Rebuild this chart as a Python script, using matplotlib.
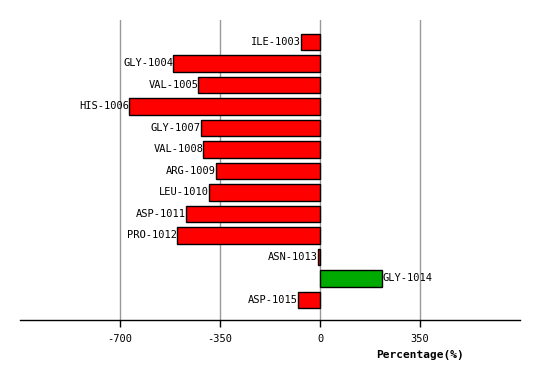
import matplotlib
matplotlib.use('Agg')
import matplotlib.pyplot as plt

residues = ['ILE-1003', 'GLY-1004', 'VAL-1005', 'HIS-1006', 'GLY-1007', 'VAL-1008',
            'ARG-1009', 'LEU-1010', 'ASP-1011', 'PRO-1012', 'ASN-1013', 'GLY-1014',
            'ASP-1015']
values = [-66, -513, -426, -667, -418, -408, -363, -390, -468, -499, -7, 217, -76]
xticks = [-700, -350, 0, 350]

fig = plt.figure(figsize=(5.4, 3.8), dpi=100)
ax = fig.add_axes([20 / 540, 60 / 380, 500 / 540, 300 / 380])

colors = ['#00aa00' if v > 0 else '#ff0000' for v in values]
ypos = list(range(len(residues)))
ax.barh(ypos, values, height=0.75, color=colors, edgecolor='black', linewidth=1, zorder=3)

font = {'family': 'DejaVu Sans Mono', 'size': 7.5}
for y, v, name in zip(ypos, values, residues):
    if v < 0:
        ax.text(v, y, name, ha='right', va='center', **font)
    else:
        ax.text(v + 3, y, name, ha='left', va='center', **font)

ax.set_xlim(-1050, 700)
ax.set_ylim(12.93, -1.02)
ax.set_xticks(xticks)
ax.set_xticklabels([str(t) for t in xticks], **font)
ax.set_yticks([])
ax.tick_params(axis='x', length=5, width=1, pad=5)
ax.grid(True, axis='x', color='#999999', linewidth=1, zorder=0)
for s in ['top', 'left', 'right']:
    ax.spines[s].set_visible(False)
ax.spines['bottom'].set_linewidth(1)
ax.set_xlabel('Percentage(%)', fontfamily='DejaVu Sans Mono', fontsize=8, fontweight='bold')
ax.xaxis.set_label_coords(0.8, -0.1)

plt.savefig('out.png', dpi=100)
